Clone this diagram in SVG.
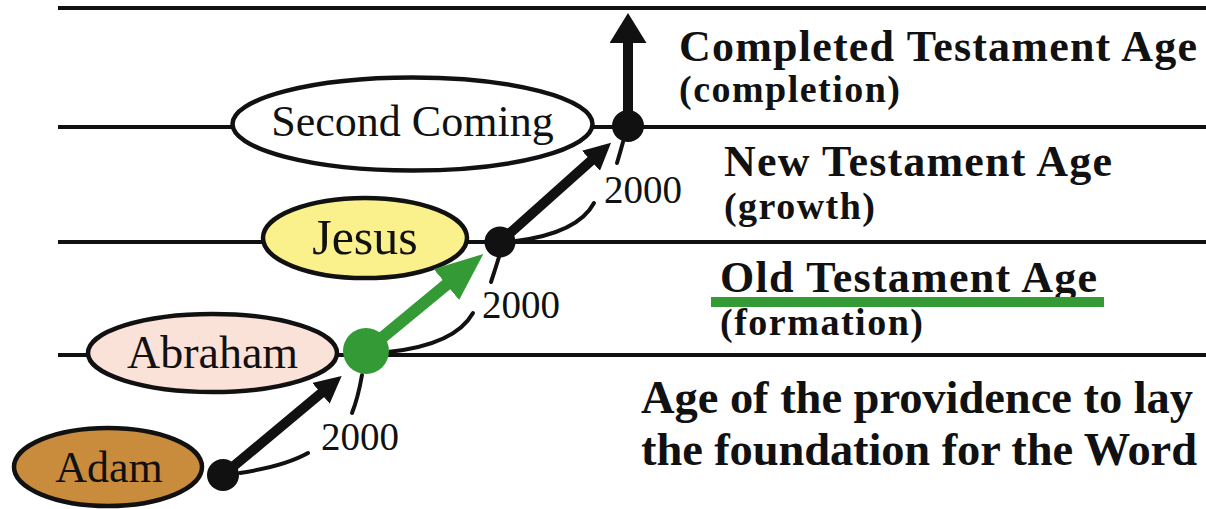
<svg xmlns="http://www.w3.org/2000/svg" width="1206" height="509" viewBox="0 0 1206 509">
<style>
.bg{fill:#ffffff}
.hline{stroke:#111;stroke-width:4;fill:none}
.node{stroke:#111;stroke-width:4.5}
.lbl{font-family:"Liberation Serif","Times New Roman",serif;fill:#111}
.num{font-family:"Liberation Serif","Times New Roman",serif;font-size:39px;fill:#111}
.age{font-family:"Liberation Serif","Times New Roman",serif;font-weight:bold;fill:#111}
.big{font-size:44px}
.sub{font-size:38px}
.arc{stroke:#111;stroke-width:4;fill:none;stroke-linecap:round}
.arr{stroke:#111;stroke-width:10;fill:none}
.garr{stroke:#339a36;stroke-width:12;fill:none}
.dot{fill:#111}
</style>
<defs>
<marker id="headB" markerUnits="userSpaceOnUse" markerWidth="27" markerHeight="27" viewBox="0 0 27 27" refX="2" refY="13.5" orient="auto"><path d="M0,0 L27,13.5 L0,27 z" fill="#111"/></marker>
<marker id="headUp" markerUnits="userSpaceOnUse" markerWidth="30" markerHeight="37" viewBox="0 0 30 37" refX="2" refY="18.5" orient="auto"><path d="M0,0 L30,18.5 L0,37 z" fill="#111"/></marker>
<marker id="headG" markerUnits="userSpaceOnUse" markerWidth="48" markerHeight="40" viewBox="0 0 48 40" refX="2" refY="20" orient="auto"><path d="M0,0 L48,20 L0,40 z" fill="#339a36"/></marker>
</defs>
<rect class="bg" x="0" y="0" width="1206" height="509"/>

<g id="age-lines">
<line class="hline" x1="58" y1="8" x2="1206" y2="8"/>
<line class="hline" x1="58" y1="127" x2="1206" y2="127"/>
<line class="hline" x1="58" y1="242" x2="1206" y2="242"/>
<line class="hline" x1="58" y1="355" x2="1206" y2="355"/>
</g>

<g id="node-second-coming">
<ellipse class="node" cx="412.5" cy="124" rx="180" ry="46.5" fill="#ffffff"/>
<text class="lbl" x="412.5" y="136" font-size="44" text-anchor="middle">Second Coming</text>
</g>
<g id="node-jesus">
<ellipse class="node" cx="365" cy="238" rx="102" ry="40" fill="#faf08c"/>
<text class="lbl" x="365" y="254" font-size="50" text-anchor="middle">Jesus</text>
</g>
<g id="node-abraham">
<ellipse class="node" cx="212.5" cy="353" rx="124.5" ry="39" fill="#fbe2d8"/>
<text class="lbl" x="212.5" y="368" font-size="46" text-anchor="middle">Abraham</text>
</g>
<g id="node-adam">
<ellipse class="node" cx="108" cy="467" rx="94" ry="39" fill="#c98b3c"/>
<text class="lbl" x="109" y="482" font-size="44" text-anchor="middle">Adam</text>
</g>

<g id="connectors">
<path class="arc" d="M240 473 Q285 466 308 453"/>
<path class="arc" d="M352 413 Q358 398 362 375"/>
<path class="arc" d="M388 352 Q455 345 473 313"/>
<path class="arc" d="M491 282 Q495 270 499 257"/>
<path class="arc" d="M516 241 Q578 233 594 203"/>
<path class="arc" d="M617 163 Q620 153 623 142"/>
<line class="arr" x1="223" y1="475" x2="322.5" y2="392" marker-end="url(#headB)"/>
<line class="arr" x1="500" y1="242" x2="592.4" y2="159.4" marker-end="url(#headB)"/>
<line class="arr" x1="628" y1="126" x2="628" y2="41" marker-end="url(#headUp)"/>
<line class="garr" x1="366" y1="351" x2="447.9" y2="283.3" marker-end="url(#headG)"/>
</g>

<g id="node-adam-point"><circle class="dot" cx="223" cy="475" r="16"/></g>
<g id="node-abraham-point"><circle cx="366" cy="351" r="23" fill="#339a36"/></g>
<g id="node-jesus-point"><circle class="dot" cx="500" cy="242" r="15.5"/></g>
<g id="node-second-coming-point"><circle class="dot" cx="628" cy="126" r="16"/></g>

<g id="period-labels">
<text class="num" x="321" y="450">2000</text>
<text class="num" x="482" y="318">2000</text>
<text class="num" x="604" y="203">2000</text>
</g>

<g id="age-completed">
<text class="age big" x="679" y="61" textLength="518">Completed Testament Age</text>
<text class="age sub" x="679" y="102" textLength="221">(completion)</text>
</g>
<g id="age-new">
<text class="age big" x="724" y="176" textLength="388">New Testament Age</text>
<text class="age sub" x="724" y="219" textLength="151">(growth)</text>
</g>
<g id="age-old">
<text class="age big" x="720" y="292" textLength="377">Old Testament Age</text>
<rect x="711" y="297" width="393" height="10" fill="#339a36"/>
<text class="age sub" x="720" y="335" textLength="203">(formation)</text>
</g>
<g id="age-foundation">
<text class="age" x="641" y="413" font-size="46.5" textLength="552">Age of the providence to lay</text>
<text class="age" x="641" y="465" font-size="46.5" textLength="556">the foundation for the Word</text>
</g>
</svg>
